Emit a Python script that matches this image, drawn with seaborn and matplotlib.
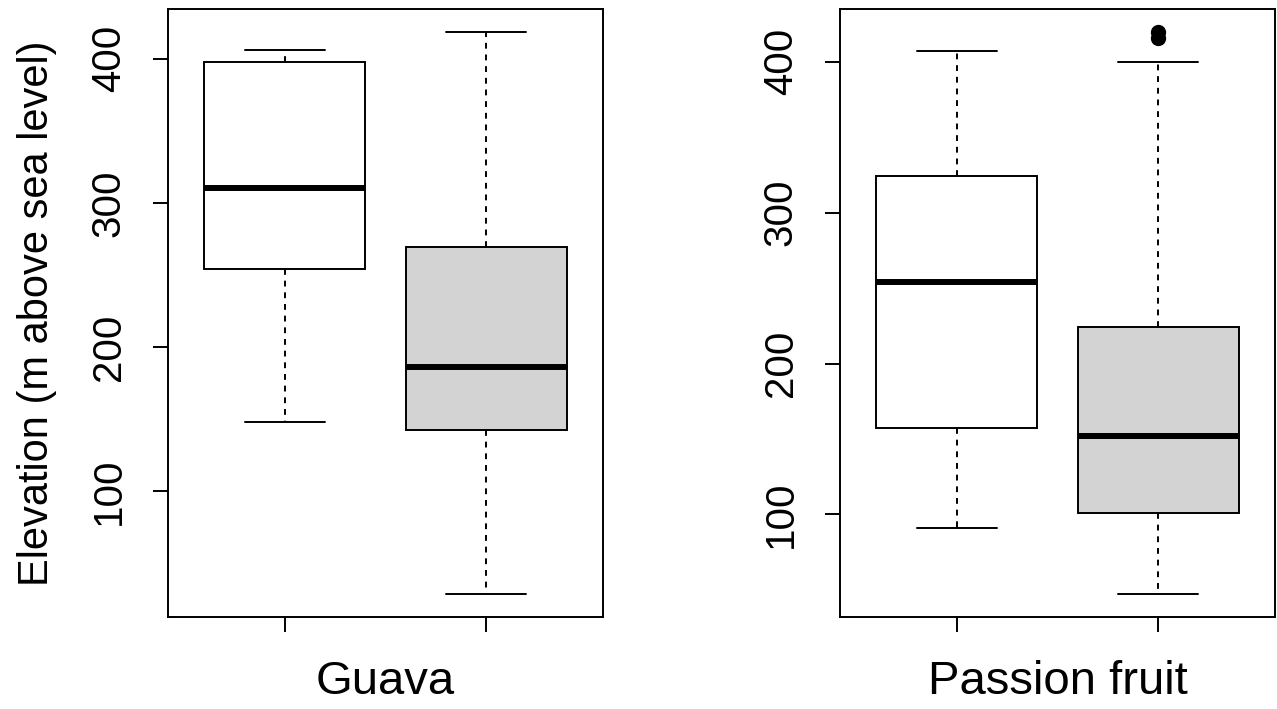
import numpy as np
import pandas as pd

import matplotlib
matplotlib.use("Agg")
import matplotlib.pyplot as plt
import seaborn as sns

# elevation values (m above sea level)
guava_white = [148, 254, 310, 398, 406]
guava_grey = [28, 142, 186, 269, 419]
passion_white = [91, 157, 254, 324, 407]
passion_grey = [47, 60, 80, 101, 120, 140, 152, 175, 200, 224, 400, 416, 420]

fruits = ["Guava", "Passion fruit"]
groups = ["white", "grey"]
box_colors = ["white", "lightgray"]
y_ticks = [100, 200, 300, 400]

rows = []
for fruit, grp, vals in [("Guava", "white", guava_white), ("Guava", "grey", guava_grey),
                         ("Passion fruit", "white", passion_white), ("Passion fruit", "grey", passion_grey)]:
    for v in vals:
        rows.append({"fruit": fruit, "group": grp, "elevation": v})
df = pd.DataFrame(rows)

sns.set_style("ticks")
plt.rcParams['font.family'] = ['Liberation Sans', 'DejaVu Sans']
plt.rcParams['text.color'] = 'black'
plt.rcParams['axes.labelcolor'] = 'black'
plt.rcParams['xtick.color'] = 'black'
plt.rcParams['ytick.color'] = 'black'

fig = plt.figure(figsize=(12.77, 7.09), dpi=100)
ax1 = fig.add_axes([168 / 1277, 1 - 617 / 709, 435 / 1277, 608 / 709])
ax2 = fig.add_axes([840 / 1277, 1 - 617 / 709, 435 / 1277, 608 / 709])

for ax, fruit in zip([ax1, ax2], fruits):
    sub = df[df["fruit"] == fruit]
    sns.boxplot(data=sub, x="group", y="elevation", hue="group", order=groups,
                hue_order=groups, palette=box_colors, saturation=1, width=0.8,
                linecolor="black", linewidth=1.4, legend=False, ax=ax,
                whiskerprops=dict(linestyle=(0, (3, 3)), linewidth=1.4),
                capprops=dict(linewidth=1.4),
                medianprops=dict(linewidth=4.3, color="black"),
                flierprops=dict(marker="o", markerfacecolor="black",
                                markeredgecolor="black", markersize=10))
    lo, hi = sub["elevation"].min(), sub["elevation"].max()
    pad = (hi - lo) * 0.04
    ax.set_ylim(lo - pad, hi + pad)
    ax.set_xlim(-0.58, 1.58)
    ax.set_yticks(y_ticks)
    ax.set_yticklabels([str(t) for t in y_ticks], rotation=90, va="center", fontsize=29)
    ax.set_xticks([0, 1])
    ax.set_xticklabels(["", ""])
    ax.tick_params(length=11, width=1.4, pad=18, color="black", labelcolor="black")
    for s in ax.spines.values():
        s.set_linewidth(1.4)
        s.set_color("black")
    ax.set_xlabel(fruit, fontsize=34, color="black")
    ax.xaxis.set_label_coords(0.5, -0.07)
    ax.set_ylabel("")

ax1.set_ylabel("Elevation (m above sea level)", fontsize=30, color="black")
ax1.yaxis.set_label_coords(-0.255, 0.5)

fig.savefig("out.png", dpi=100)
